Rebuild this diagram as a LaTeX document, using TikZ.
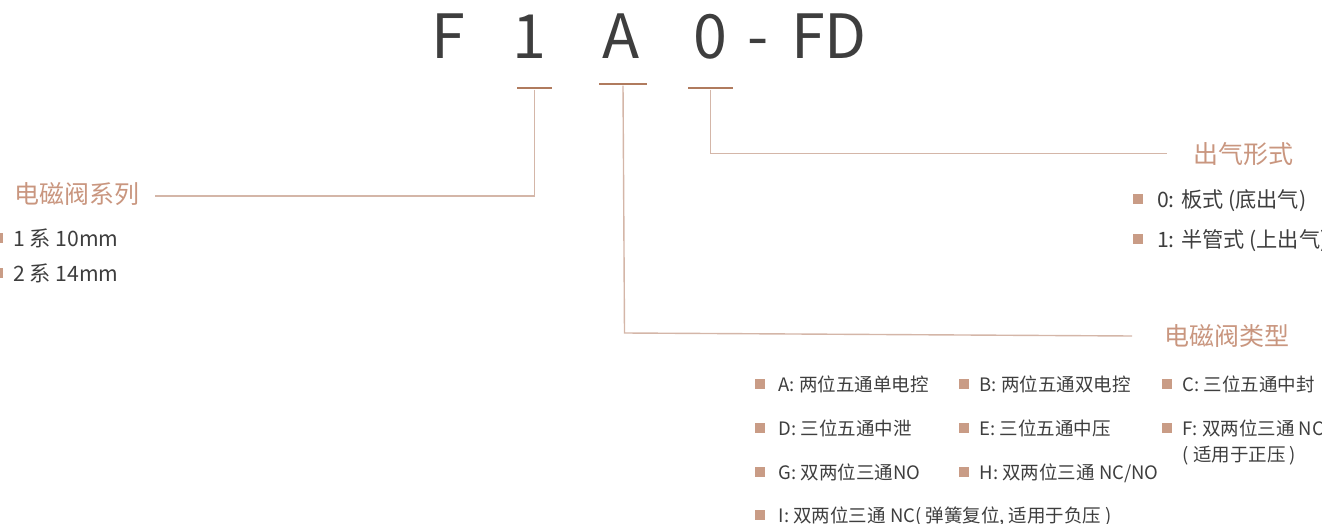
\documentclass[tikz,border=0pt]{standalone}
\usepackage{fontspec}
\setmainfont{Noto Sans CJK SC}
\definecolor{txt}{HTML}{3E3E3E}
\definecolor{lbl}{HTML}{C9967F}
\definecolor{sqc}{HTML}{C99C86}
\definecolor{barc}{HTML}{B07B5E}
\definecolor{conc}{HTML}{D4B6A8}
\tikzset{
  title/.style={anchor=base, inner sep=0pt, text=txt, font=\fontsize{61}{61}\selectfont},
  lab/.style={anchor=base west, inner sep=0pt, text=lbl, font=\fontsize{25}{25}\selectfont},
  item/.style={anchor=base west, inner sep=0pt, text=txt, font=\fontsize{18.5}{18.5}\selectfont},
  bigitem/.style={anchor=base west, inner sep=0pt, text=txt, font=\fontsize{21.2}{21.2}\selectfont},
  sq/.style={fill=sqc, draw=none, minimum width=9.5pt, minimum height=9.5pt, inner sep=0pt},
  bar/.style={fill=barc, draw=none, minimum height=2.7pt, inner sep=0pt},
  conn/.style={draw=conc, line width=1.4pt}
}
\begin{document}
\begin{tikzpicture}[x=1pt,y=-1pt]
\useasboundingbox (0,0) rectangle (1322,524);
% title
\node[title] (tF) at (448.5,59) {F};
\node[title] (t1) at (529,59) {1};
\node[title] (tA) at (621,59) {A};
\node[title] (t0) at (710,59) {0};
\node[title] (td) at (758.5,59) {-};
\node[title] (tFD) at (829,59) {FD};
% bars
\node[bar, minimum width=35pt] (b1) at (534.5,88) {};
\node[bar, minimum width=48pt] (bA) at (623,84) {};
\node[bar, minimum width=45pt] (b0) at (710.5,88) {};
% labels
\node[lab] (ser) at (14,203) {电磁阀系列};
\node[lab] (out) at (1193,163) {出气形式};
\node[lab] (typ) at (1164,345.5) {电磁阀类型};
% connector ends
\coordinate (serEnd) at (155,196);
\coordinate (outEnd) at (1167,153.5);
\coordinate (typCorner) at (624.5,333);
\coordinate (typEnd) at (1132,336);
\draw[conn] (b1.south) |- (serEnd);
\draw[conn] (b0.south) |- (outEnd);
\draw[conn] (bA.south) -- (typCorner) -- (typEnd);
% series items
\node[sq] (s1q) at (-1.5,238) {};
\node[bigitem] (s1) at (13,246) {1 系 10mm};
\node[sq] (s2q) at (-1.5,273) {};
\node[bigitem] (s2) at (13,281) {2 系 14mm};
% outlet items
\node[sq] (o0q) at (1138,199) {};
\node[bigitem] (o0) at (1157,207) {0: 板式 (底出气)};
\node[sq] (o1q) at (1138,239) {};
\node[bigitem] (o1) at (1157,247) {1: 半管式 (上出气)};
% type items
\node[sq] (qA) at (760,384) {};
\node[item] (iA) at (778.5,391) {A: 两位五通单电控};
\node[sq] (qB) at (964,384) {};
\node[item] (iB) at (979.5,391) {B: 两位五通双电控};
\node[sq] (qC) at (1167,384) {};
\node[item] (iC) at (1182.5,391) {C: 三位五通中封};
\node[sq] (qD) at (760,428) {};
\node[item] (iD) at (778.5,435) {D: 三位五通中泄};
\node[sq] (qE) at (964,428) {};
\node[item] (iE) at (979.5,435) {E: 三位五通中压};
\node[sq] (qF) at (1167,428) {};
\node[item] (iF) at (1182.5,435) {F: 双两位三通 NC};
\node[item] (iF2) at (1182.5,461) {( 适用于正压 )};
\node[sq] (qG) at (760,472) {};
\node[item] (iG) at (778.5,479) {G: 双两位三通NO};
\node[sq] (qH) at (964,472) {};
\node[item] (iH) at (979.5,479) {H: 双两位三通 NC/NO};
\node[sq] (qI) at (760,515) {};
\node[item] (iI) at (778.5,522) {I: 双两位三通 NC( 弹簧复位, 适用于负压 )};
\end{tikzpicture}
\end{document}
